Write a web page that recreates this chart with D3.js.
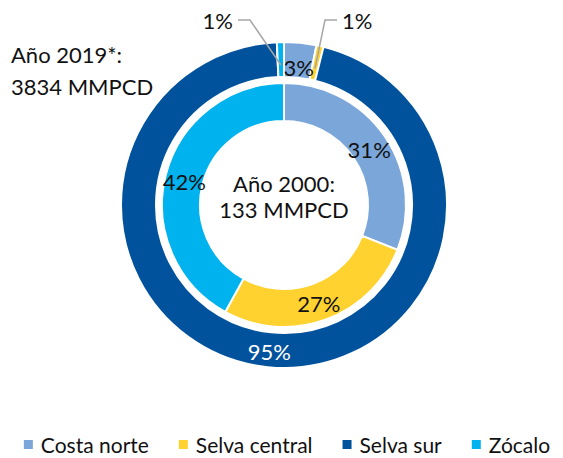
<!DOCTYPE html>
<html>
<head>
<meta charset="utf-8">
<script src="https://cdn.jsdelivr.net/npm/d3@7"></script>
<style>
  html, body { margin: 0; padding: 0; background: #fff; }
  svg { display: block; font-family: Lato, "Open Sans", sans-serif; }
</style>
</head>
<body>
<svg id="chart"></svg>
<script>
const categories = ["Costa norte", "Selva central", "Selva sur", "Zócalo"];
const colors = ["#7BA6DA", "#FFD22F", "#00529C", "#00B3EF"];
// share of production (%) per region
const values2019 = [3.2, 0.7, 95.4, 0.7];
const values2000 = [31, 27, 0, 42];
const label2019 = ["Año 2019*:", "3834 MMPCD"];
const label2000 = ["Año 2000:", "133 MMPCD"];

const width = 563;
const height = 458;
const cx = 284;
const cy = 205;
const fontSize = 22;

const svg = d3.select("#chart").attr("width", width).attr("height", height);

const pie = d3.pie().sort(null).value((d) => d.value);
const toRows = (vals) => vals.map((v, i) => ({ name: categories[i], value: v, color: colors[i] }));

const outerArc = d3.arc().innerRadius(128).outerRadius(163);
const innerArc = d3.arc().innerRadius(84).outerRadius(122);

const g = svg.append("g").attr("transform", `translate(${cx},${cy})`);

const outerData = pie(toRows(values2019));
const innerData = pie(toRows(values2000));

g.append("g")
  .selectAll("path")
  .data(outerData)
  .join("path")
  .attr("d", outerArc)
  .attr("fill", (d) => d.data.color)
  .attr("stroke", "#fff")
  .attr("stroke-width", 2);

g.append("g")
  .selectAll("path")
  .data(innerData.filter((d) => d.value > 0))
  .join("path")
  .attr("d", innerArc)
  .attr("fill", (d) => d.data.color)
  .attr("stroke", "#fff")
  .attr("stroke-width", 2);

// labels inside the rings
const pct = (d) => Math.round(d.data.value) + "%";

g.append("g")
  .selectAll("text")
  .data(innerData.filter((d) => d.value > 0))
  .join("text")
  .attr("x", (d) => innerArc.centroid(d)[0])
  .attr("y", (d) => innerArc.centroid(d)[1] + 2)
  .attr("text-anchor", "middle")
  .attr("dominant-baseline", "central")
  .attr("font-size", fontSize)
  .attr("fill", "#111")
  .text(pct);

// big slices of outer ring get labels in place, tiny ones get leader lines
const bigOuter = outerData.filter((d) => d.value >= 2);
g.append("g")
  .selectAll("text")
  .data(bigOuter)
  .join("text")
  .attr("x", (d) => outerArc.centroid(d)[0])
  .attr("y", (d) => outerArc.centroid(d)[1] + (d.data.name === "Selva sur" ? 2 : 7))
  .attr("text-anchor", "middle")
  .attr("dominant-baseline", "central")
  .attr("font-size", fontSize)
  .attr("fill", (d) => (d.data.name === "Selva sur" ? "#fff" : "#111"))
  .text(pct);

const smallOuter = outerData.filter((d) => d.value < 2);
smallOuter.forEach((d) => {
  const [px, py] = d3.arc().innerRadius(140).outerRadius(140).centroid(d);
  const left = d.data.name === "Zócalo";
  const elbowX = left ? -34 : 41;
  const endX = left ? -46 : 53;
  const ly = -185;
  g.append("polyline")
    .attr("points", [[px, py], [elbowX, ly], [endX, ly]].map((p) => p.join(",")).join(" "))
    .attr("fill", "none")
    .attr("stroke", "#A6A6A6")
    .attr("stroke-width", 1.5);
  g.append("text")
    .attr("x", left ? endX - 5 : endX + 5)
    .attr("y", ly)
    .attr("text-anchor", left ? "end" : "start")
    .attr("dominant-baseline", "central")
    .attr("font-size", fontSize)
    .attr("fill", "#111")
    .text(pct(d));
});

// center label
const center = svg.append("text")
  .attr("text-anchor", "middle")
  .attr("font-size", fontSize)
  .attr("fill", "#111");
label2000.forEach((t, i) => {
  center.append("tspan").attr("x", cx).attr("y", 192 + i * 26).text(t);
});

// 2019 label at top left
const side = svg.append("text")
  .attr("font-size", fontSize)
  .attr("fill", "#111");
label2019.forEach((t, i) => {
  side.append("tspan").attr("x", 11).attr("y", 63 + i * 32).text(t);
});

// legend
const legend = svg.append("g");
const items = legend.selectAll("g")
  .data(categories)
  .join("g");
items.append("rect")
  .attr("width", 9)
  .attr("height", 9)
  .attr("y", -4)
  .attr("fill", (d, i) => colors[i]);
items.append("text")
  .attr("x", 17)
  .attr("y", 9)
  .attr("font-size", 21)
  .attr("fill", "#111")
  .text((d) => d);

let x = 0;
const gap = 30;
items.each(function () {
  d3.select(this).attr("transform", `translate(${x},0)`);
  x += 17 + d3.select(this).select("text").node().getComputedTextLength() + gap;
});
const total = x - gap;
legend.attr("transform", `translate(${287 - total / 2},444)`);
</script>
</body>
</html>
